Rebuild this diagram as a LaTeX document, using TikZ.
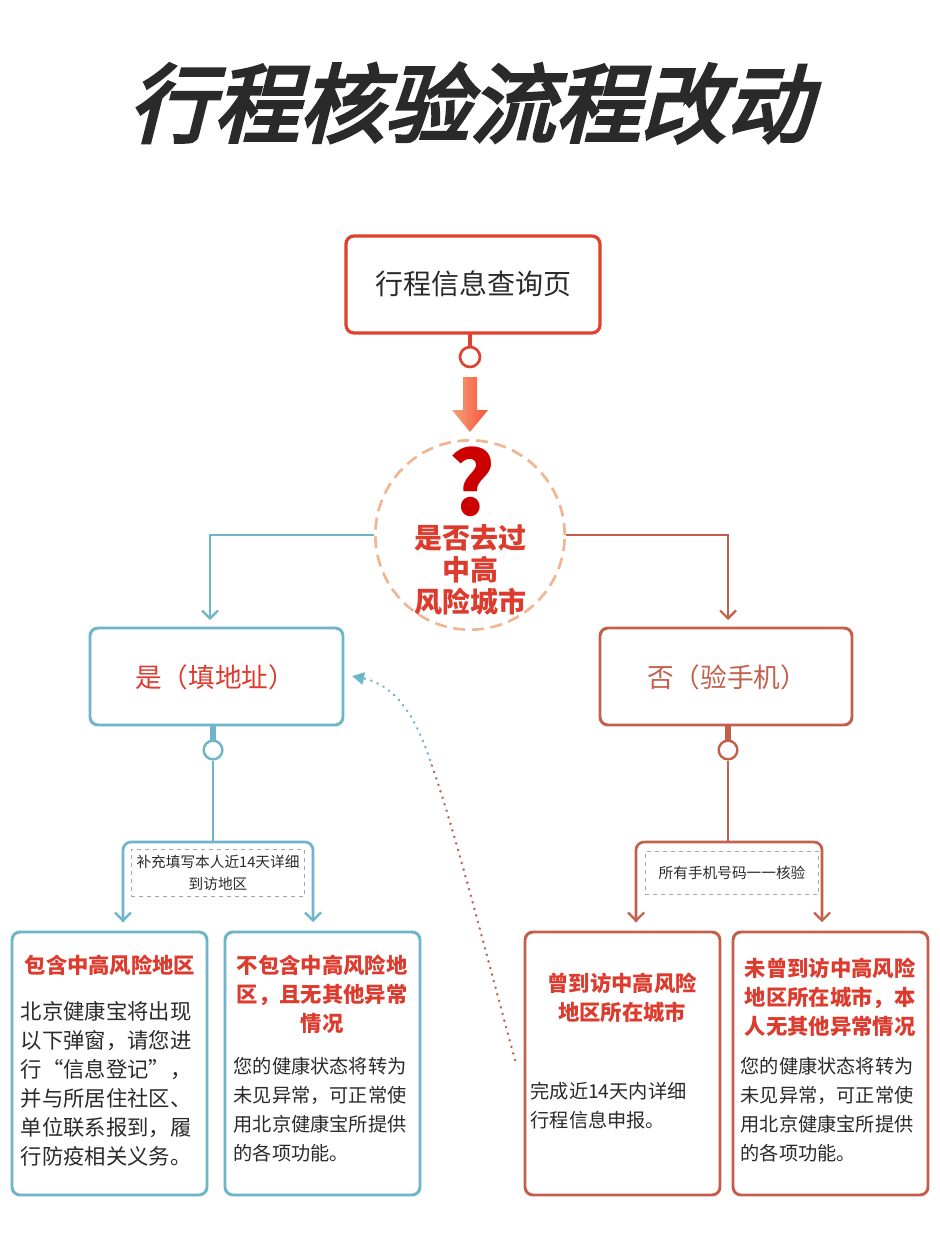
\documentclass[tikz,border=0pt]{standalone}
\usepackage{fontspec}
\usepackage{xcolor}
\usetikzlibrary{arrows.meta}
\setmainfont{Noto Sans CJK SC}
\newfontfamily\titlefont{Noto Sans CJK SC}[FakeBold=4,FakeSlant=0.25]
\definecolor{topred}{HTML}{E0412E}
\definecolor{txtred}{HTML}{DD3B2E}
\definecolor{bluel}{HTML}{6DB5C9}
\definecolor{redl}{HTML}{C2604C}
\definecolor{peach}{HTML}{F0B593}
\definecolor{orng}{HTML}{F08A5A}
\definecolor{body}{HTML}{2A2A2A}

\tikzset{
  blbox/.style={draw=bluel,line width=2.2pt,rounded corners=6pt},
  rdbox/.style={draw=redl,line width=2.2pt,rounded corners=6pt},
  bline/.style={draw=bluel,line width=2pt},
  rline/.style={draw=redl,line width=2pt},
  vtip/.style={-{Straight Barb[length=6pt,width=12pt,line width=1.6pt]}},
  btitle/.style={anchor=north,text width=135pt,align=center,text=txtred,font=\fontsize{16}{21.75}\selectfont\bfseries},
  bbody/.style={anchor=north west,text width=140pt,align=left,text=body,font=\fontsize{16}{21.75}\selectfont},
  nbody/.style={bbody,font=\fontsize{14.4}{21.75}\selectfont},
  lbl/.style={draw=gray!70,dashed,line width=0.5pt,fill=white,text=body,align=center,font=\fontsize{11}{17}\selectfont,inner sep=4pt}
}

\begin{document}
\begin{tikzpicture}[x=0.75pt,y=-0.75pt]
\useasboundingbox[fill=white] (0,0) rectangle (939,1235);
% title
\node (title) at (470,103) {\titlefont\fontsize{64}{66}\selectfont\color{body}行程核验流程改动};

% query page
\draw[draw=topred,line width=2.4pt,rounded corners=6pt] (346,236) rectangle (600,333);
\node (query) at (473,284) {\fontsize{21}{24}\selectfont\color{body}行程信息查询页};
\coordinate (qbot) at (470,333);
\draw[draw=topred,line width=2.4pt] (qbot) -- (470,347);
\node[circle,draw=topred,line width=2pt,minimum size=15pt,fill=white] (qring) at (470,357) {};

% orange arrow
\shade[left color=orng!80,right color=orng!60!red] (463,377) -- (477,377) -- (477,410) -- (488,410) -- (470,432) -- (452,410) -- (463,410) -- cycle;

% decision circle
\node[circle,draw=peach,dashed,dash pattern=on 9pt off 5pt,line width=2pt,minimum size=142pt] (ask) at (470,535) {};
\node (qmark) at (472,482) {\fontsize{66}{66}\selectfont\bfseries\color{red!80!black}?};
\node[align=center,text=txtred,font=\fontsize{21}{24}\selectfont\bfseries] (asktxt) at (470,570) {是否去过\\中高\\风险城市};

% yes / no
\draw[blbox] (90,628) rectangle (343,725);
\node (yes) at (215,677) {\fontsize{20}{24}\selectfont\color{txtred}是（填地址）};
\draw[rdbox] (600,628) rectangle (852,725);
\node (no) at (727,677) {\fontsize{20}{24}\selectfont\color{redl}否（验手机）};
\draw[bline,vtip] (ask.west) -| (210,620);
\draw[rline,vtip] (ask.east) -| (728,620);

% blue stem and bracket
\draw[draw=bluel,line width=4pt] (213,725) -- (213,740);
\node[circle,draw=bluel,line width=1.8pt,minimum size=14pt,fill=white] (yring) at (213,750) {};
\draw[bline] (yring.south) -- (213,842);
\draw[bline,rounded corners=6pt,vtip] (123,922) -- (123,842) -- (313,842) -- (313,922);
\draw[bline,vtip] (123,900) -- (123,922);
\node[lbl] (yesnote) at (218,873) {补充填写本人近14天详细\\到访地区};

% red stem and bracket
\draw[draw=redl,line width=4pt] (728,725) -- (728,740);
\node[circle,draw=redl,line width=1.8pt,minimum size=14pt,fill=white] (nring) at (728,750) {};
\draw[rline] (nring.south) -- (728,842);
\draw[rline,rounded corners=6pt,vtip] (636,922) -- (636,842) -- (822,842) -- (822,922);
\draw[rline,vtip] (636,900) -- (636,922);
\node[lbl,minimum width=130pt,minimum height=32pt] (nonote) at (732,873) {所有手机号码一一核验};

% bottom boxes
\draw[blbox] (12,932) rectangle (207,1195);
\draw[blbox] (225,932) rectangle (420,1195);
\draw[rdbox] (525,932) rectangle (720,1195);
\draw[rdbox] (733,932) rectangle (928,1195);

\node[btitle] (b1t) at (110,950) {包含中高风险地区};
\node[bbody] (b1b) at (16,997) {北京健康宝将出现\\以下弹窗，请您进\\行“信息登记”，\\并与所居住社区、\\单位联系报到，履\\行防疫相关义务。};
\node[btitle] (b2t) at (322,950) {不包含中高风险地\\区，且无其他异常\\情况};
\node[nbody] (b2b) at (229,1052) {您的健康状态将转为\\未见异常，可正常使\\用北京健康宝所提供\\的各项功能。};
\node[btitle] (r1t) at (622,968) {曾到访中高风险\\地区所在城市};
\node[nbody] (r1b) at (526,1077) {完成近14天内详细\\行程信息申报。};
\node[btitle] (r2t) at (830,953) {未曾到访中高风险\\地区所在城市，本\\人无其他异常情况};
\node[nbody] (r2b) at (736,1052) {您的健康状态将转为\\未见异常，可正常使\\用北京健康宝所提供\\的各项功能。};

% dotted link back
\coordinate (dstart) at (515,1060);
\coordinate (dmid) at (430,760);
\draw[redl,line width=2pt,dash pattern=on 0.1pt off 5pt,line cap=round] (dstart) .. controls (485,950) and (455,830) .. (dmid);
\draw[bluel,line width=2pt,dash pattern=on 0.1pt off 5pt,line cap=round,-{Triangle[length=9pt,width=9pt]}] (dmid) .. controls (415,715) and (395,685) .. (352,676);
\end{tikzpicture}
\end{document}
